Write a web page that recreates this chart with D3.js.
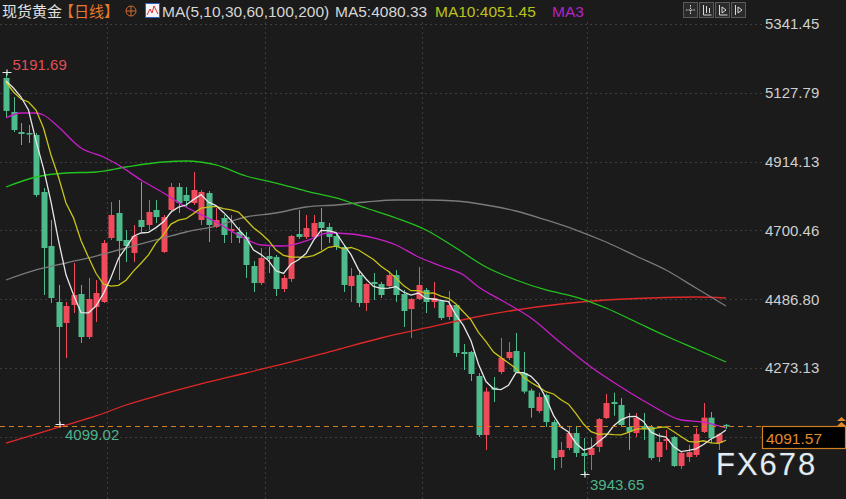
<!DOCTYPE html>
<html><head><meta charset="utf-8">
<script src="https://cdn.jsdelivr.net/npm/d3@7"></script>
<style>
html,body{margin:0;padding:0;background:#1b1b1b;overflow:hidden}
svg{display:block}
text{font-family:"Liberation Sans","Noto Sans CJK SC",Arial,sans-serif}
</style></head><body>
<svg id="c" width="846" height="499"></svg>
<script>
// ---- data ----
const opens = [5173.7,5068.2,5006.1,5003.0,4996.8,4819.7,4652.0,4478.1,4412.9,4468.8,
4502.9,4369.4,4462.6,4478.1,4676.9,4754.5,4670.7,4630.3,4732.8,4717.2,
4763.8,4633.4,4763.8,4835.2,4810.4,4785.5,4732.8,4816.6,4711.0,4739.0,
4698.6,4695.5,4680.0,4589.9,4537.1,4620.9,4617.8,4518.5,4549.5,4689.3,
4680.0,4680.0,4726.5,4711.0,4683.1,4648.9,4527.8,4561.9,4475.0,4540.2,
4534.0,4527.8,4561.9,4502.9,4456.3,4487.4,4515.4,4478.1,4481.2,4431.5,
4468.8,4322.8,4322.8,4248.3,4065.0,4212.4,4260.7,4304.2,4325.9,4257.6,
4203.1,4139.6,4189.3,4105.2,3996.7,4024.7,4071.2,4009.2,4002.9,4027.8,
4117.8,4167.5,4158.2,4089.9,4071.2,4093.0,4089.9,3996.7,4046.4,4058.8,
3968.8,3996.7,4002.9,4074.4,4118.9,4040.2,4096.5];
const closes = [5071.3,5012.3,4999.9,4998.3,4810.4,4645.8,4490.5,4400.5,4465.7,4499.8,
4369.4,4487.4,4506.0,4661.3,4748.3,4667.6,4652.0,4683.1,4711.0,4757.6,
4742.1,4742.1,4835.2,4785.5,4791.7,4825.9,4819.7,4717.2,4732.8,4686.2,
4704.8,4676.9,4593.0,4537.1,4614.7,4611.6,4518.5,4552.6,4683.1,4680.0,
4707.9,4723.4,4707.9,4680.0,4648.9,4530.9,4558.8,4475.0,4534.0,4534.0,
4499.8,4561.9,4499.8,4450.1,4487.4,4530.9,4478.1,4490.5,4428.4,4468.8,
4319.7,4316.6,4254.5,4065.0,4200.0,4206.2,4304.2,4322.8,4260.7,4200.0,
4148.9,4183.0,4105.2,3993.6,4018.5,4071.2,4009.2,3999.8,4024.7,4114.7,
4164.4,4161.3,4096.1,4074.4,4117.8,4086.8,3993.6,4043.3,4052.6,3968.8,
4009.2,4012.0,4068.1,4118.9,4055.0,4068.0,4091.57];
const highs = [5191.69,5114.7,5034.0,5027.8,5003.0,4832.1,4732.8,4530.9,4478.1,4599.2,
4530.9,4552.6,4546.4,4670.7,4788.6,4794.9,4701.6,4717.2,4850.8,4794.9,
4794.9,4748.3,4847.6,4847.6,4835.2,4881.8,4825.9,4822.8,4770.0,4748.3,
4748.3,4711.0,4695.5,4605.4,4645.8,4648.9,4624.1,4561.9,4686.2,4763.8,
4748.3,4748.3,4770.0,4723.4,4692.4,4655.1,4583.6,4577.5,4537.1,4568.1,
4540.2,4574.4,4577.5,4515.4,4490.5,4586.8,4521.6,4540.2,4484.3,4512.3,
4471.9,4347.6,4325.9,4257.6,4212.4,4245.2,4366.3,4353.8,4381.8,4322.8,
4209.3,4196.6,4193.5,4111.6,4043.3,4089.9,4093.0,4055.7,4055.7,4117.8,
4192.4,4196.6,4179.9,4133.4,4133.4,4133.4,4096.1,4071.2,4080.4,4061.9,
4012.3,4034.0,4086.8,4164.4,4136.5,4071.2,4099.2];
const lows = [5052.6,5006.1,4965.7,4971.9,4804.2,4499.8,4475.0,4099.02,4304.2,4443.9,
4350.8,4363.2,4416.0,4475.0,4670.7,4546.4,4602.3,4602.3,4695.5,4701.6,
4723.4,4630.3,4754.5,4754.5,4773.1,4779.3,4717.2,4664.5,4707.9,4661.3,
4661.3,4661.3,4552.6,4509.1,4530.9,4568.1,4496.7,4509.1,4540.2,4673.8,
4673.8,4676.9,4639.6,4661.3,4639.6,4509.1,4478.1,4462.6,4450.1,4484.3,
4490.5,4524.7,4478.1,4400.5,4366.3,4484.3,4443.9,4459.4,4422.2,4422.2,
4307.4,4266.9,4232.7,4058.8,4018.5,4167.5,4254.5,4298.0,4257.6,4193.5,
4118.9,4133.4,4089.9,3956.4,3962.6,4018.5,3996.7,3943.65,3956.4,4012.3,
4114.7,4125.1,4089.9,4018.5,4058.8,4049.5,3987.4,3981.2,4018.5,3965.7,
3959.5,3981.2,3996.7,4071.2,4040.2,4018.5,4083.7];

// leading moving-average values (their history lies left of the window)
const ma5Lead  = [5164.4,5142.7,5114.7,5074.3];
const ma10Lead = [5161.3,5130.3,5108.5,5099.2,5074.3,5018.5,4934.6,4866.3,4785.5];

const ma30Idx = [0,2,4,5,7,10,13,15,18,21,24,28,31,34,37,40,43,46,49,52,55,58,61,63,66,70,74,78,82,86,90,93,96];
const ma30Val = [5049.5,5065.0,5065.0,5058.8,5021.6,4956.4,4928.4,4903.6,4857.0,4816.6,4773.1,4726.5,4686.2,4655.1,4652.0,4667.6,4692.4,4689.3,4676.9,4655.1,4617.8,4589.9,4561.9,4524.7,4484.3,4428.4,4350.8,4276.3,4214.1,4158.2,4111.6,4105.2,4086.8];
const ma60Idx = [0,4,8,12,16,21,24,28,32,36,40,44,48,52,56,60,64,68,72,76,80,84,88,92,96];
const ma60Val = [4835.2,4866.3,4878.7,4881.8,4897.4,4912.9,4916.0,4903.6,4869.4,4847.6,4822.8,4801.1,4770.0,4739.0,4701.6,4645.8,4586.8,4546.4,4515.4,4493.6,4459.4,4416.0,4372.5,4332.1,4291.8];
const ma100Idx = [0,4,8,12,16,21,24,28,32,36,40,44,48,52,56,60,64,68,72,76,80,84,88,92,96];
const ma100Val = [4546.4,4577.5,4599.2,4620.9,4645.8,4676.9,4695.5,4714.1,4742.1,4754.5,4773.1,4779.3,4788.6,4794.9,4794.9,4791.7,4779.3,4760.7,4732.8,4701.6,4664.5,4620.9,4577.5,4521.6,4465.7];
const ma200Idx = [0,4,8,12,16,21,26,32,38,44,50,56,62,68,74,80,86,92,96];
const ma200Val = [4040.2,4068.1,4096.1,4124.1,4158.2,4192.4,4223.5,4257.6,4291.8,4329.0,4366.3,4397.4,4428.4,4453.3,4471.9,4484.3,4490.5,4493.6,4490.5];

// grid levels; the last one's label is hidden under the last-price box
const gridValues = [5341.45,5127.79,4914.13,4700.46,4486.80,4273.13,4059.47];
const tickValues = [5341.45,5127.79,4914.13,4700.46,4486.80,4273.13];
const tickLabels = ["5341.45","5127.79","4914.13","4700.46","4486.80","4273.13"];
const monthStarts = [14,35,56,78];
const lastPrice = 4091.57;
const maxMark = {i:0, v:5191.69, label:"5191.69"};
const minMarks = [{i:7, v:4099.02, label:"4099.02"},{i:77, v:3943.65, label:"3943.65"}];
const headerMA = {ma5:"4080.33", ma10:"4051.45"};

// ---- drawing ----
const svg = d3.select("#c");
const W = 846, H = 499;
svg.append("rect").attr("width",W).attr("height",H).attr("fill","#1b1b1b");

const n = closes.length;
const x = d3.scaleLinear().domain([0, n-1]).range([6, 726]);
const y = d3.scaleLinear().domain([4273.13, 5341.45]).range([368, 24]);

const UP = "#ef4b5b", DN = "#4dbb8b";

// grid
const grid = svg.append("g");
grid.selectAll("line.h").data(gridValues).join("line")
  .attr("x1",0).attr("x2",762).attr("y1",d=>Math.round(y(d))+0.5).attr("y2",d=>Math.round(y(d))+0.5)
  .attr("stroke","#3d3d3d").attr("stroke-dasharray","2,3");
grid.selectAll("line.v").data(monthStarts).join("line")
  .attr("x1",d=>Math.round(x(d)-3.75)+0.5).attr("x2",d=>Math.round(x(d)-3.75)+0.5).attr("y1",22).attr("y2",H)
  .attr("stroke","#3d3d3d").attr("stroke-dasharray","2,3");

// axis labels
const yAxis = d3.axisRight(y).tickValues(tickValues).tickFormat((d,i)=>tickLabels[i]).tickSize(0).tickPadding(0);
const ag = svg.append("g").attr("transform","translate(765,0)").call(yAxis);
ag.select(".domain").remove();
ag.selectAll("text").attr("fill","#cfcfcf").attr("font-size","15px")
  .attr("font-family",'"Liberation Sans",Arial,sans-serif');

// candles
const cg = svg.append("g");
const idx = d3.range(n);
cg.selectAll("line.w").data(idx).join("line")
  .attr("x1",i=>Math.round(x(i))+0.5).attr("x2",i=>Math.round(x(i))+0.5)
  .attr("y1",i=>y(highs[i])).attr("y2",i=>y(lows[i]))
  .attr("stroke",i=>closes[i]>=opens[i]?UP:DN).attr("stroke-width",1);
cg.selectAll("rect").data(idx).join("rect")
  .attr("x",i=>Math.round(x(i))-2.5).attr("width",6)
  .attr("y",i=>y(Math.max(opens[i],closes[i])))
  .attr("height",i=>Math.max(1.2, Math.abs(y(opens[i])-y(closes[i]))))
  .attr("fill",i=>closes[i]>=opens[i]?UP:DN);

// moving averages
function rolling(len, lead){
  return idx.map(i => i < lead.length ? lead[i] : d3.mean(closes.slice(i-len+1, i+1)));
}
const ma5 = rolling(5, ma5Lead), ma10 = rolling(10, ma10Lead);
const lineIdx = d3.line().x(d=>x(d[0])).y(d=>y(d[1])).curve(d3.curveMonotoneX);
const lineAll = d3.line().x((d,i)=>x(i)).y(d=>y(d));
const zip = (a,b)=>a.map((v,k)=>[v,b[k]]);
const mg = svg.append("g").attr("fill","none").attr("stroke-width",1.3);
mg.append("path").attr("d",lineIdx(zip(ma200Idx,ma200Val))).attr("stroke","#e02828");
mg.append("path").attr("d",lineIdx(zip(ma100Idx,ma100Val))).attr("stroke","#7a7a7a");
mg.append("path").attr("d",lineIdx(zip(ma60Idx,ma60Val))).attr("stroke","#22c31c");
mg.append("path").attr("d",lineIdx(zip(ma30Idx,ma30Val))).attr("stroke","#c81ec8");
mg.append("path").attr("d",lineAll(ma10)).attr("stroke","#c9c31a");
mg.append("path").attr("d",lineAll(ma5)).attr("stroke","#e6e6e6");

// last price line
const ly = Math.round(y(lastPrice))+0.5;
svg.append("line").attr("x1",0).attr("x2",762).attr("y1",ly).attr("y2",ly)
  .attr("stroke","#d0801f").attr("stroke-dasharray","5,4").attr("stroke-width",1.2);
svg.append("rect").attr("x",762.5).attr("y",ly).attr("width",83).attr("height",22)
  .attr("fill","#000").attr("stroke","#d0801f").attr("stroke-width",1.2);
svg.append("text").attr("x",766).attr("y",ly+17).attr("fill","#e08a2c")
  .attr("font-size","15.5px").text(lastPrice.toFixed(2));
// small arrow icon
svg.append("path").attr("d","M837,421 l4.5,-4 l4.5,4 z M837,426 l4.5,-4 l4.5,4 z").attr("fill","#e08a2c");

// extreme markers
function cross(cx, cy){
  svg.append("path").attr("d",`M${cx-4},${cy}h9M${cx+0.5},${cy-3}v6`).attr("stroke","#e8e8e8").attr("stroke-width",1.2);
}
cross(Math.round(x(maxMark.i))+0.5, Math.round(y(maxMark.v))+0.5);
svg.append("text").attr("x",x(maxMark.i)+6.5).attr("y",y(maxMark.v)-2).attr("fill","#e05058")
  .attr("font-size","15px").text(maxMark.label);
minMarks.forEach(m=>{
  cross(Math.round(x(m.i))+0.5, Math.round(y(m.v))+0.5);
  svg.append("text").attr("x",x(m.i)+6.5).attr("y",y(m.v)+16).attr("fill","#4fb38c")
    .attr("font-size","15px").text(m.label);
});

// watermark
svg.append("text").attr("x",716).attr("y",475).attr("font-size","31px").attr("letter-spacing","2px")
  .attr("fill","#e4ecf3").attr("stroke","#2a2a2a").attr("stroke-width",1.5).attr("paint-order","stroke")
  .text("FX678");

// header
const hd = svg.append("g").attr("font-size","15.5px");
hd.append("text").attr("x",2).attr("y",17).attr("fill","#e2e2e2").attr("font-size","15px").attr("font-family",'"Noto Sans CJK SC",sans-serif').text("现货黄金");
hd.append("text").attr("x",59).attr("y",17).attr("fill","#e8782a").attr("font-size","15px").attr("font-family",'"Noto Sans CJK SC",sans-serif').text("【日线】");
hd.append("circle").attr("cx",131).attr("cy",11).attr("r",5).attr("fill","none").attr("stroke","#d06a2a");
hd.append("path").attr("d","M126,11h10M131,6v10").attr("stroke","#d06a2a");
hd.append("rect").attr("x",145.5).attr("y",3.5).attr("width",14).attr("height",14).attr("fill","#f4f4f4").attr("stroke","#3060c0");
hd.append("path").attr("d","M147,15 l3,-6 l2,4 l2,-7 l4,8").attr("fill","none").attr("stroke","#e03030");
hd.append("text").attr("x",162).attr("y",17).attr("fill","#d6d6d6").text("MA(5,10,30,60,100,200)");
hd.append("text").attr("x",335).attr("y",17).attr("fill","#d6d6d6").text("MA5:"+headerMA.ma5);
hd.append("text").attr("x",435).attr("y",17).attr("fill","#bcc21c").text("MA10:"+headerMA.ma10);
hd.append("text").attr("x",552).attr("y",17).attr("fill","#b424c4").text("MA3");

// toolbar buttons
const bx = [683,699,715,731];
bx.forEach((b,k)=>{
  svg.append("rect").attr("x",b+0.5).attr("y",2.5).attr("width",14).attr("height",15).attr("fill","#2b2b2b").attr("stroke","#5a5a5a");
});
svg.append("path").attr("d","M690.5,5v9M686,10h9").attr("stroke","#d8d8d8").attr("stroke-dasharray","1.5,1");
svg.append("path").attr("d","M703.5,5v10h8M706.5,6v7M709.5,8v5").attr("stroke","#d8d8d8").attr("fill","none");
svg.append("path").attr("d","M719.5,5v10h8M722,7l4,3l-4,3z").attr("stroke","#d8d8d8").attr("fill","none");
svg.append("path").attr("d","M735.5,5v10M738,7l4,3l-4,3z").attr("stroke","#d8d8d8").attr("fill","none");
</script>
</body></html>
